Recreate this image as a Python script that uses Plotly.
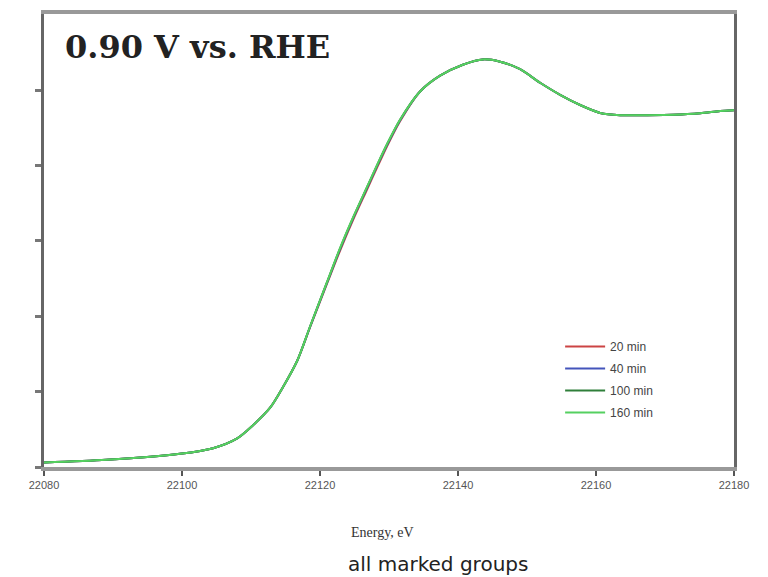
import plotly.graph_objects as go

energy = [22080.0, 22089.1, 22099.7, 22104.5, 22108.0, 22110.3, 22112.8, 22114.6, 22116.7,
          22118.6, 22121.0, 22122.9, 22124.8, 22126.8, 22128.4, 22129.7, 22131.6, 22134.5,
          22137.4, 22140.7, 22143.6, 22146.1, 22149.0, 22151.9, 22154.8, 22157.7, 22160.6,
          22163.5, 22167.4, 22171.2, 22175.1, 22178.0, 22180.0]

mu_20 = [0.012, 0.019, 0.035, 0.050, 0.076, 0.111, 0.158, 0.211, 0.282,
         0.373, 0.486, 0.574, 0.656, 0.736, 0.800, 0.851, 0.918, 0.997,
         1.039, 1.068, 1.082, 1.076, 1.056, 1.020, 0.988, 0.961, 0.940,
         0.934, 0.934, 0.935, 0.939, 0.945, 0.947]
mu_40 = [0.012, 0.019, 0.035, 0.050, 0.076, 0.111, 0.158, 0.211, 0.282,
         0.374, 0.488, 0.578, 0.660, 0.740, 0.804, 0.854, 0.920, 0.997,
         1.039, 1.068, 1.082, 1.076, 1.056, 1.020, 0.988, 0.961, 0.940,
         0.934, 0.934, 0.935, 0.939, 0.945, 0.947]
mu_100 = [0.012, 0.019, 0.035, 0.050, 0.076, 0.111, 0.158, 0.211, 0.282,
          0.375, 0.490, 0.580, 0.662, 0.742, 0.806, 0.856, 0.922, 0.997,
          1.039, 1.068, 1.082, 1.076, 1.056, 1.020, 0.988, 0.961, 0.940,
          0.934, 0.934, 0.935, 0.939, 0.945, 0.947]
mu_160 = [0.012, 0.019, 0.035, 0.050, 0.076, 0.111, 0.158, 0.211, 0.282,
          0.375, 0.490, 0.581, 0.663, 0.743, 0.807, 0.857, 0.922, 0.997,
          1.039, 1.068, 1.082, 1.076, 1.056, 1.020, 0.988, 0.961, 0.940,
          0.934, 0.934, 0.935, 0.939, 0.945, 0.947]

series_names = ["20 min", "40 min", "100 min", "160 min"]
series_values = [mu_20, mu_40, mu_100, mu_160]
series_colors = ["#cc4444", "#4455bb", "#2f7f3a", "#55d060"]

x_ticks = [22080, 22100, 22120, 22140, 22160, 22180]
y_ticks = [0, 0.2, 0.4, 0.6, 0.8, 1.0]

fig = go.Figure()
for name, vals, col in zip(series_names, series_values, series_colors):
    fig.add_trace(go.Scatter(x=energy, y=vals, mode="lines", name=name, legendgroup=name,
                             line=dict(color=col, width=2, shape="spline", smoothing=0.8)))

fig.update_layout(
    width=760, height=569,
    margin=dict(l=36, r=34, t=2, b=110),
    paper_bgcolor="white", plot_bgcolor="white",
    showlegend=True,
    legend=dict(x=0.748, y=0.298, xanchor="left", yanchor="top",
                bgcolor="rgba(0,0,0,0)", font=dict(family="Liberation Sans", size=12, color="#444"),
                tracegroupgap=3, itemwidth=40),
    xaxis=dict(range=[22080, 22180], tickvals=x_ticks, ticktext=[str(v) for v in x_ticks],
               showgrid=False, zeroline=False, showline=True, linecolor="#999", linewidth=4,
               mirror=True, ticks="outside", ticklen=5, tickcolor="#555", tickwidth=2,
               tickfont=dict(family="Liberation Sans Narrow, Liberation Sans", size=11, color="#555")),
    yaxis=dict(range=[0, 1.2026], tickvals=y_ticks, showticklabels=False,
               showgrid=False, zeroline=False, showline=True, linecolor="#666", linewidth=3,
               mirror=True, ticks="outside", ticklen=6, tickcolor="#777", tickwidth=3),
    annotations=[
        dict(text="<b>0.90 V vs. RHE</b>", xref="paper", yref="paper", x=0.028, y=0.974,
             xanchor="left", yanchor="top", showarrow=False,
             font=dict(family="DejaVu Serif", size=32, color="#222")),
        dict(text="Energy, eV", xref="paper", yref="paper", x=0.49, y=-0.144,
             xanchor="center", yanchor="middle", showarrow=False,
             font=dict(family="Liberation Serif", size=14, color="#333")),
        dict(text="all marked groups", xref="paper", yref="paper", x=0.571, y=-0.214,
             xanchor="center", yanchor="middle", showarrow=False,
             font=dict(family="DejaVu Sans", size=20, color="#222")),
    ],
)

fig.write_html("out.html")
